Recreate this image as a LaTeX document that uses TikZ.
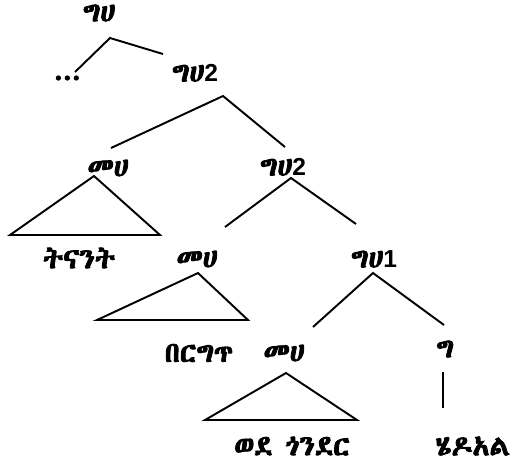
\documentclass[tikz,border=0pt]{standalone}
\usepackage{fontspec}
\newfontfamily\ethfont{Abyssinica SIL}[Script=Ethiopic,FakeBold=3]
\newfontfamily\digfont{Liberation Sans}

\tikzset{
  lbl/.style={font=\ethfont\fontsize{16}{18}\selectfont, inner sep=0pt},
  branch/.style={line width=1.1pt},
}
\newcommand\dg[1]{{\digfont\bfseries\fontsize{14}{16}\selectfont #1}}

\begin{document}
\begin{tikzpicture}[x=0.02cm,y=-0.02cm]
  \useasboundingbox (0,0) rectangle (517,468);

  \node[lbl] (gh0) at (99,13) {ግሀ};
  \node[lbl] (dots) at (68,78) {...};
  \node[lbl] (gh2a) at (195,73) {ግሀ\dg{2}};
  \node[lbl] (mh1) at (108,168) {መሀ};
  \node[lbl] (gh2b) at (283,167) {ግሀ\dg{2}};
  \node[lbl] (tnant) at (79,258) {ትናንት};
  \node[lbl] (mh2) at (197,259) {መሀ};
  \node[lbl] (gh1) at (374,259) {ግሀ\dg{1}};
  \node[lbl] (brgt) at (199,353) {በርግጥ};
  \node[lbl] (mh3) at (284,353) {መሀ};
  \node[lbl] (g) at (445,349) {ግ};
  \node[lbl] (wede) at (292,446) {ወደ ጎንደር};
  \node[lbl] (hedoal) at (473,446) {ሄዶአል};

  \coordinate (t1l) at (10,235);
  \coordinate (t1r) at (160,235);
  \coordinate (t2l) at (97,320);
  \coordinate (t2r) at (248,320);
  \coordinate (t3l) at (205,420);
  \coordinate (t3r) at (357,420);

  \draw[branch] ([shift={(7,-6)}]dots.center) -- ([shift={(11,25)}]gh0.center)
    -- ([shift={(-32,-19)}]gh2a.center);
  \draw[branch] ([shift={(3,-20)}]mh1.center) -- ([shift={(28,23)}]gh2a.center)
    -- ([shift={(2,-20)}]gh2b.center);
  \draw[branch] ([shift={(28,-32)}]mh2.center) -- ([shift={(8,11)}]gh2b.center)
    -- ([shift={(-18,-35)}]gh1.center);
  \draw[branch] ([shift={(29,-26)}]mh3.center) -- ([shift={(-1,14)}]gh1.center)
    -- ([shift={(-1,-24)}]g.center);
  \draw[branch] ([shift={(-2,23)}]g.center) -- ([shift={(-30,-38)}]hedoal.center);

  \draw[branch] ([shift={(-14,8)}]mh1.center) -- (t1r) -- (t1l) -- cycle;
  \draw[branch] ([shift={(1,14)}]mh2.center) -- (t2r) -- (t2l) -- cycle;
  \draw[branch] ([shift={(2,20)}]mh3.center) -- (t3r) -- (t3l) -- cycle;
\end{tikzpicture}
\end{document}
